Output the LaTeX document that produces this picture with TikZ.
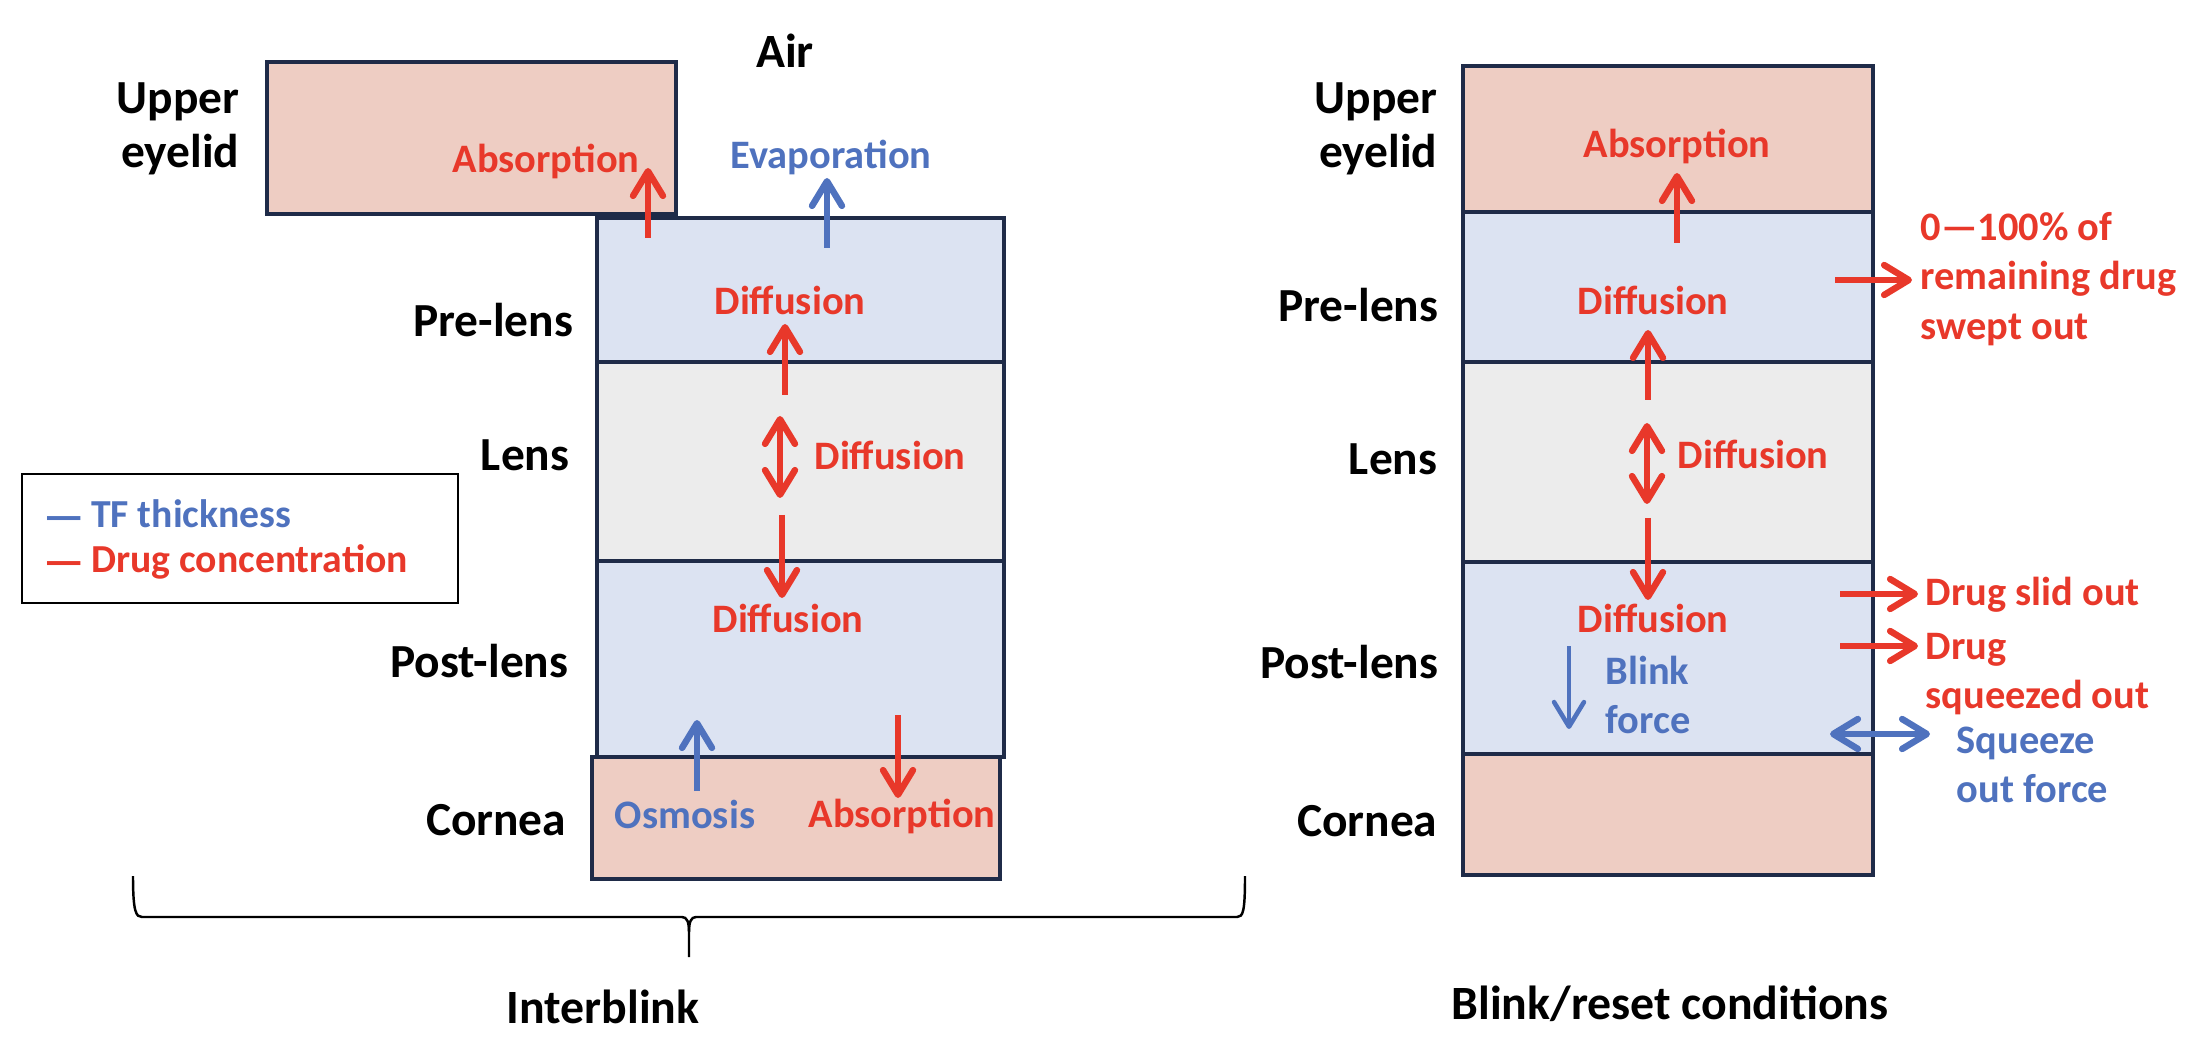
\documentclass[tikz,border=0pt]{standalone}
\usepackage{fontspec}
\setmainfont{Carlito}
\usetikzlibrary{arrows.meta, positioning}
\definecolor{tRed}{HTML}{E8382A}
\definecolor{tBlue}{HTML}{4F72BE}
\definecolor{lPink}{HTML}{EECDC3}
\definecolor{lBlue}{HTML}{DCE3F2}
\definecolor{lGray}{HTML}{ECECEC}
\definecolor{nNavy}{HTML}{1F2B48}
\tikzset{
  layer/.style={draw=nNavy, line width=0.95pt, outer sep=0pt, inner sep=0pt, anchor=north west},
  lidlayer/.style={layer, fill=lPink},
  tearlayer/.style={layer, fill=lBlue},
  lenslayer/.style={layer, fill=lGray},
  sidelab/.style={font=\fontsize{13.5}{15.5}\selectfont\bfseries, anchor=east, align=right, inner sep=0pt},
  titlelab/.style={font=\fontsize{13.6}{15.5}\selectfont\bfseries, inner sep=0pt},
  redlab/.style={font=\fontsize{11.5}{14}\selectfont\bfseries, text=tRed, inner sep=0pt, align=left},
  bluelab/.style={redlab, text=tBlue},
  keylab/.style={font=\fontsize{11.3}{12}\selectfont\bfseries, inner sep=0pt, anchor=base west},
}
\tikzset{
  redarrow/.style={->, line width=1.85pt, tRed},
  bluearrow/.style={->, line width=1.85pt, tBlue},
  thinblue/.style={->, line width=1.3pt, tBlue},
  bracepath/.style={line width=0.7pt, black},
}
\newcommand{\keydash}{\raisebox{-1.2pt}{\fontsize{13}{13}\selectfont —}\hspace{0.06cm}}

\begin{document}
\begin{tikzpicture}[>={Straight Barb[length=7pt, width=8.5pt, round]}]
  \useasboundingbox (0,0) rectangle (21.88,-10.60);
  \node[lidlayer, minimum width=4.09cm, minimum height=1.52cm] (lidL) at (2.67,-0.62) {};
  \node[tearlayer, minimum width=4.07cm, minimum height=1.44cm] (preL) at (5.97,-2.18) {};
  \node[lenslayer, minimum width=4.07cm, minimum height=1.99cm] (lensL) at (5.97,-3.62) {};
  \node[tearlayer, minimum width=4.07cm, minimum height=1.96cm] (postL) at (5.97,-5.61) {};
  \node[lidlayer, minimum width=4.08cm, minimum height=1.22cm] (corL) at (5.92,-7.57) {};
  \node[lidlayer, minimum width=4.10cm, minimum height=1.46cm] (lidR) at (14.63,-0.66) {};
  \node[tearlayer, minimum width=4.10cm, minimum height=1.50cm] (preR) at (14.63,-2.12) {};
  \node[lenslayer, minimum width=4.10cm, minimum height=2.00cm] (lensR) at (14.63,-3.62) {};
  \node[tearlayer, minimum width=4.10cm, minimum height=1.92cm] (postR) at (14.63,-5.62) {};
  \node[lidlayer, minimum width=4.10cm, minimum height=1.21cm] (corR) at (14.63,-7.54) {};

  \node[sidelab] (lidLabL) at (2.40,-1.29) {Upper\\eyelid};
  \node[titlelab] (air) at (7.85,-0.51) {Air};
  \node[sidelab] (preLabL) at (5.74,-3.20) {Pre-lens};
  \node[sidelab] (lensLabL) at (5.70,-4.55) {Lens};
  \node[sidelab] (postLabL) at (5.69,-6.61) {Post-lens};
  \node[sidelab] (corLabL) at (5.67,-8.20) {Cornea};
  \node[sidelab] (lidLabR) at (14.38,-1.29) {Upper\\eyelid};
  \node[sidelab] (preLabR) at (14.39,-3.05) {Pre-lens};
  \node[sidelab] (lensLabR) at (14.38,-4.59) {Lens};
  \node[sidelab] (postLabR) at (14.39,-6.62) {Post-lens};
  \node[sidelab] (corLabR) at (14.38,-8.21) {Cornea};
  \node[titlelab] (inter) at (6.03,-10.07) {Interblink};
  \node[titlelab] (blink) at (16.70,-10.04) {Blink/reset conditions};

  \node[draw=black, line width=0.85pt, outer sep=0pt, minimum width=4.36cm, minimum height=1.29cm,
    anchor=north west] (legend) at (0.22,-4.74) {};
  \node[keylab, text=tBlue] (tfkey) at (0.43,-5.27) {\keydash TF thickness};
  \node[keylab, text=tRed] (drugkey) at (0.43,-5.72) {\keydash Drug concentration};

  \node[redlab] (absLidL) at (5.46,-1.61) {Absorption};
  \node[bluelab] (evap) at (8.31,-1.57) {Evaporation};
  \node[redlab] (difPreL) at (7.90,-3.00) {Diffusion};
  \node[redlab] (difLensL) at (8.90,-4.55) {Diffusion};
  \node[redlab] (difPostL) at (7.88,-6.18) {Diffusion};
  \node[bluelab] (osmo) at (6.85,-8.14) {Osmosis};
  \node[redlab] (absCorL) at (9.02,-8.16) {Absorption};
  \node[redlab] (absLidR) at (16.77,-1.46) {Absorption};
  \node[redlab] (difPreR) at (16.53,-3.00) {Diffusion};
  \node[redlab] (difLensR) at (17.53,-4.54) {Diffusion};
  \node[redlab] (difPostR) at (16.53,-6.18) {Diffusion};
  \node[bluelab, anchor=west] (blinkF) at (16.05,-6.95) {Blink\\force};
  \node[redlab, anchor=west] (swept) at (19.20,-2.79) {0—100\% of\\remaining drug\\swept out};
  \node[redlab, anchor=west] (slid) at (19.25,-5.95) {Drug slid out};
  \node[redlab, anchor=west] (sqzd) at (19.25,-6.74) {Drug\\squeezed out};
  \node[bluelab, anchor=west] (sqzF) at (19.56,-7.65) {Squeeze\\out force};

  \coordinate (absLs) at (6.48,-2.38); \coordinate (absLe) at (6.48,-1.68);
  \coordinate (evapS) at (8.27,-2.48); \coordinate (evapE) at (8.27,-1.78);
  \coordinate (difLs) at (7.85,-3.95); \coordinate (difLe) at (7.85,-3.24);
  \coordinate (dblLa) at (7.80,-4.16); \coordinate (dblLb) at (7.80,-4.98);
  \coordinate (dwnLs) at (7.82,-5.15); \coordinate (dwnLe) at (7.82,-5.98);
  \coordinate (osmS) at (6.97,-7.91); \coordinate (osmE) at (6.97,-7.20);
  \coordinate (corS) at (8.98,-7.15); \coordinate (corE) at (8.98,-7.98);
  \coordinate (absRs) at (16.77,-2.43); \coordinate (absRe) at (16.77,-1.73);
  \coordinate (difRs) at (16.48,-4.00); \coordinate (difRe) at (16.48,-3.30);
  \coordinate (swpS) at (18.35,-2.80); \coordinate (swpE) at (19.12,-2.80);
  \coordinate (dblRa) at (16.47,-4.23); \coordinate (dblRb) at (16.47,-5.04);
  \coordinate (dwnRs) at (16.48,-5.18); \coordinate (dwnRe) at (16.48,-6.00);
  \coordinate (blkS) at (15.69,-6.46); \coordinate (blkE) at (15.69,-7.29);
  \coordinate (slidS) at (18.40,-5.94); \coordinate (slidE) at (19.18,-5.94);
  \coordinate (sqzS) at (18.40,-6.46); \coordinate (sqzE) at (19.18,-6.46);
  \coordinate (sqfA) at (18.30,-7.34); \coordinate (sqfB) at (19.30,-7.34);

  \draw[redarrow] (absLs) -- (absLe);
  \draw[bluearrow] (evapS) -- (evapE);
  \draw[redarrow] (difLs) -- (difLe);
  \draw[redarrow, <->] (dblLa) -- (dblLb);
  \draw[redarrow] (dwnLs) -- (dwnLe);
  \draw[bluearrow] (osmS) -- (osmE);
  \draw[redarrow] (corS) -- (corE);
  \draw[redarrow] (absRs) -- (absRe);
  \draw[redarrow] (difRs) -- (difRe);
  \draw[redarrow] (swpS) -- (swpE);
  \draw[redarrow, <->] (dblRa) -- (dblRb);
  \draw[redarrow] (dwnRs) -- (dwnRe);
  \draw[thinblue] (blkS) -- (blkE);
  \draw[redarrow] (slidS) -- (slidE);
  \draw[redarrow] (sqzS) -- (sqzE);
  \draw[bluearrow, <->] (sqfA) -- (sqfB);

  \draw[bracepath] (1.33,-8.76) .. controls (1.33,-9.12) and (1.36,-9.17) .. (1.42,-9.17)
    -- (6.82,-9.17) .. controls (6.87,-9.17) and (6.89,-9.22) .. (6.89,-9.32) -- (6.89,-9.57);
  \draw[bracepath] (6.89,-9.32) .. controls (6.89,-9.22) and (6.91,-9.17) .. (6.96,-9.17)
    -- (12.37,-9.17) .. controls (12.43,-9.17) and (12.45,-9.12) .. (12.45,-8.76);
\end{tikzpicture}
\end{document}
